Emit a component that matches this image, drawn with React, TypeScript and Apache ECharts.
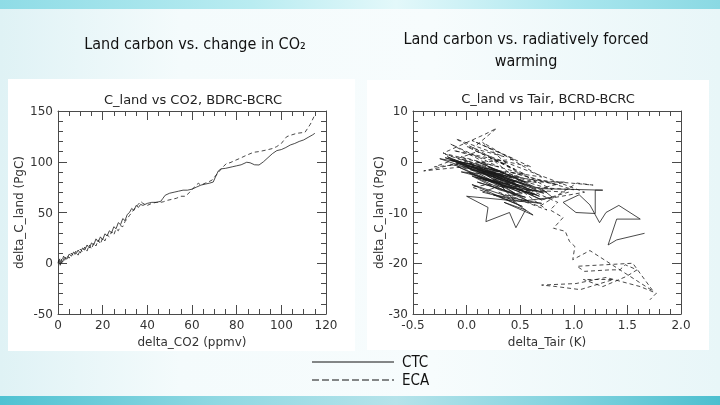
import { useEffect, useRef } from "react";
import * as echarts from "echarts";

// ---- Left panel: land carbon change vs CO2 change ----
const CO2_CTC_X = [0, 0.5, 1, 1.5, 2, 3, 4, 5, 6, 7, 8, 9, 10, 11, 12, 13, 14, 15, 16, 17, 18, 19, 20, 21, 22, 23, 24, 25, 26, 27, 28, 29, 30, 31, 32, 33, 34, 35, 36, 37, 38, 40, 42, 44, 46, 47, 48, 50, 52, 54, 56, 58, 60, 62, 64, 66, 68, 69.5, 70.5, 71.8, 73, 75, 78, 80, 82, 84.5, 86, 88, 90, 92, 94, 96, 98, 100, 102, 104, 106, 108, 110, 112, 114, 115];
const CO2_CTC_Y = [0, 3, -2, 4, 1, 6, 4, 9, 7, 11, 9, 13, 10, 15, 13, 18, 15, 20, 18, 24, 21, 26, 23, 29, 27, 32, 30, 36, 34, 40, 38, 44, 42, 48, 50, 54, 52, 57, 55, 58, 57, 59, 60, 60, 61, 64, 67, 69, 70, 71, 72, 72, 73, 75, 77, 78, 79, 80, 85, 91, 93, 93.5, 95, 96, 97, 99.5, 99, 97, 96.8, 100, 104, 108, 111, 112, 114, 116.5, 118, 120, 121.5, 124, 126.5, 128];

const CO2_ECA_X = [0, 1, 1.5, 2.5, 3, 4, 5, 6, 7, 8, 9, 10, 11, 12, 13, 14, 15, 16, 17, 18, 19, 20, 21, 22, 23, 24, 25, 26, 27, 28, 29, 30, 31, 32, 33, 34, 35, 36, 37, 38, 40, 42, 44, 46, 47.2, 49, 51, 53, 55, 57, 59, 61, 62.8, 64, 66, 67.3, 69, 70.5, 72, 73.5, 75.5, 77, 79, 81.5, 84, 87.5, 90, 93.4, 96, 97.9, 100, 102.4, 104, 106.9, 110.6, 113, 115.1];
const CO2_ECA_Y = [1, 5, 0, 7, 3, 8, 5, 10, 7, 12, 8, 14, 11, 16, 12, 18, 14, 20, 17, 23, 19, 25, 22, 28, 26, 31, 28, 34, 32, 37, 36, 41, 44, 47, 50, 53, 56, 58, 61, 59, 57, 59, 60, 60, 60.6, 62, 63, 64, 66, 66, 70, 75, 78.8, 77, 79, 80, 82, 86, 90, 94, 98.5, 99, 101, 103.4, 106, 109.3, 110, 111.6, 113, 114.9, 118, 124.7, 126, 128, 129, 137, 146.7];

// ---- Right panel: land carbon change vs air temperature change ----
const TAIR_CTC_X = [-0.05, 0.30, -0.20, 0.45, 0.05, -0.25, 0.60, 0.10, 0.35, -0.10, 0.50, 0.00, 0.70, 0.20, -0.05, 0.40, 0.15, 0.65, 0.05, 0.30, 0.55, 0.10, 0.45, 0.05, 0.60, -0.15, 0.42, 0.12, 0.68, 0.02, 0.50, -0.08, 0.35, 0.22, 0.72, 0.08, 0.58, 0.28, -0.18, 0.48, 0.15, 0.65, 0.38, 0.05, 0.52, 0.25, 0.70, 0.00, 0.20, 0.18, 0.40, 0.46, 0.55, 0.35, 0.62, 0.48, 0.25, -0.10, 0.35, 0.10, 0.55, 0.20, 0.75, 0.30, 0.15, 0.50, 0.80, 0.70, 1.27, 1.20, 1.20, 1.02, 0.90, 1.05, 1.15, 1.24, 1.30, 1.42, 1.62, 1.40, 1.32, 1.40, 1.66];
const TAIR_CTC_Y = [0.5, -2.0, 0.8, -4.0, -0.5, 0.6, -5.5, -1.5, -3.0, -0.2, -5.0, -1.0, -7.5, -2.5, -2.0, -4.5, -3.5, -6.5, -2.8, -5.5, -7.0, -4.0, -6.2, -0.8, -4.8, 0.3, -3.2, -1.2, -6.8, -2.2, -6.0, -1.0, -5.2, -1.8, -6.2, -3.0, -7.8, -4.2, 1.0, -4.6, -2.0, -5.2, -6.8, -4.5, -8.8, -6.5, -8.2, -6.8, -9.0, -11.8, -10.0, -13.0, -9.5, -8.0, -10.5, -8.5, -3.0, 0.2, -2.2, 0.0, -4.0, -1.0, -6.0, -4.8, -6.0, -7.8, -7.0, -5.3, -5.6, -5.6, -10.2, -10.0, -8.0, -6.5, -8.5, -12.0, -10.0, -8.6, -11.3, -11.3, -16.4, -15.4, -14.1];

const TAIR_ECA_X = [0.00, -0.40, 0.20, -0.15, 0.30, -0.22, 0.17, 0.28, 0.05, 0.45, -0.10, 0.35, 0.00, 0.55, -0.05, 0.25, 0.65, 0.10, 0.85, 0.40, 1.00, 0.20, 0.05, 0.45, 0.30, 0.75, 0.50, 0.95, 0.70, 1.10, 0.10, -0.30, 0.45, 0.05, 0.60, -0.12, 0.38, 0.15, 0.70, 0.00, 0.50, -0.20, 0.32, 0.80, 0.22, 0.55, 0.12, 0.62, 0.35, 0.92, 0.42, 0.68, 1.03, 1.18, 0.60, 0.15, -0.15, 0.40, 0.85, 0.78, 0.90, 0.81, 0.92, 0.96, 1.01, 0.99, 1.15, 1.74, 1.55, 1.03, 1.10, 1.34, 1.43, 1.48, 1.59, 1.49, 1.27, 1.09, 1.37, 1.06, 0.84, 0.70, 1.02, 1.30, 1.62, 1.77, 1.71];
const TAIR_ECA_Y = [0.0, -1.8, -0.5, 3.5, -1.0, 1.7, 5.4, 6.6, 2.5, -1.5, 4.5, 1.0, 3.0, -2.5, 1.0, -3.5, -4.0, -1.5, -4.5, -2.0, -5.5, -4.5, -5.0, -8.0, -6.0, -9.5, -5.5, -6.0, -7.5, -6.0, 2.0, -1.0, 0.5, 4.2, -1.0, 2.2, -0.5, 3.8, -3.0, -0.8, -3.0, 1.5, -2.5, -5.5, 0.8, -4.8, -3.2, -6.5, -4.0, -4.0, -6.8, -8.8, -4.2, -4.6, -3.5, -2.0, -0.5, -3.8, -8.0, -9.5, -11.0, -13.1, -13.7, -15.7, -16.7, -19.3, -17.5, -25.5, -20.0, -20.6, -21.6, -21.3, -21.3, -20.3, -21.3, -22.6, -24.6, -23.2, -23.2, -25.2, -24.6, -24.3, -24.0, -22.8, -24.6, -25.9, -27.2];

const PLOT_FONT = "'DejaVu Sans', Verdana, sans-serif";
const SLIDE_FONT = "'Liberation Sans Narrow', 'DejaVu Sans Condensed', 'Open Sans', sans-serif";
const AXIS_COLOR = "#4a4a4a";
const LABEL_COLOR = "#333";
const LINE_COLOR = "#1c1c1c";

const zip = (xs: number[], ys: number[]) =>
  xs.slice(0, Math.min(xs.length, ys.length)).map((x, i) => [x, ys[i]]);

function makeAxis(
  gridIndex: number,
  position: string,
  min: number,
  max: number,
  interval: number,
  minorSplit: number,
  showLabels: boolean,
  name: string,
  nameGap: number,
  decimals: number
) {
  return {
    type: "value",
    gridIndex,
    position,
    min,
    max,
    interval,
    axisLine: { show: true, onZero: false, lineStyle: { color: AXIS_COLOR, width: 1 } },
    axisTick: { show: true, inside: true, length: 9, lineStyle: { color: AXIS_COLOR, width: 1 } },
    minorTick: { show: true, splitNumber: minorSplit, length: 5, lineStyle: { color: AXIS_COLOR, width: 1 } },
    splitLine: { show: false },
    minorSplitLine: { show: false },
    axisLabel: {
      show: showLabels,
      color: LABEL_COLOR,
      fontSize: 12,
      fontFamily: PLOT_FONT,
      margin: 5,
      formatter: (v: number) => v.toFixed(decimals),
    },
    name: showLabels ? name : "",
    nameLocation: "middle",
    nameGap,
    nameTextStyle: { color: LABEL_COLOR, fontSize: 12, fontFamily: PLOT_FONT },
  };
}

const lineSeries = (xi: number, yi: number, data: number[][], dashed: boolean) => ({
  type: "line",
  xAxisIndex: xi,
  yAxisIndex: yi,
  data,
  symbol: "none",
  showSymbol: false,
  silent: true,
  lineStyle: { color: LINE_COLOR, width: 0.8, type: dashed ? [4, 3] : "solid" },
});

export default function App() {
  const ref = useRef<HTMLDivElement>(null);

  useEffect(() => {
    if (!ref.current) return;
    const chart = echarts.init(ref.current, undefined, { renderer: "svg" });

    const option = {
      animation: false,
      backgroundColor: "transparent",
      graphic: [
        // slide background
        {
          type: "rect",
          z: -10,
          shape: { x: 0, y: 0, width: 720, height: 405 },
          style: {
            fill: new echarts.graphic.LinearGradient(0, 0, 1, 0, [
              { offset: 0, color: "#dff2f5" },
              { offset: 0.25, color: "#f4fbfc" },
              { offset: 0.6, color: "#f7fcfd" },
              { offset: 1, color: "#e8f6f8" },
            ]),
          },
        },
        {
          type: "rect",
          z: -9,
          shape: { x: 0, y: 0, width: 720, height: 9 },
          style: {
            fill: new echarts.graphic.LinearGradient(0, 0, 1, 0, [
              { offset: 0, color: "#8fdce6" },
              { offset: 0.35, color: "#b9ecf1" },
              { offset: 0.55, color: "#e3f8fa" },
              { offset: 0.8, color: "#a9e6ee" },
              { offset: 1, color: "#8ad9e3" },
            ]),
          },
        },
        {
          type: "rect",
          z: -9,
          shape: { x: 0, y: 396, width: 720, height: 9 },
          style: {
            fill: new echarts.graphic.LinearGradient(0, 0, 1, 0, [
              { offset: 0, color: "#4fc2d2" },
              { offset: 0.3, color: "#8fd8e2" },
              { offset: 0.55, color: "#b5e3ea" },
              { offset: 0.8, color: "#7fd2de" },
              { offset: 1, color: "#4cbfcf" },
            ]),
          },
        },
        // white plot panels
        { type: "rect", z: -8, shape: { x: 8, y: 79, width: 347, height: 272 }, style: { fill: "#ffffff" } },
        { type: "rect", z: -8, shape: { x: 367, y: 80, width: 342, height: 270 }, style: { fill: "#ffffff" } },
        // slide headings
        {
          type: "text",
          x: 195,
          y: 43,
          style: { text: "Land carbon vs. change in CO₂", fill: "#111", font: `16px ${SLIDE_FONT}`, textAlign: "center", textVerticalAlign: "middle" },
        },
        {
          type: "text",
          x: 526,
          y: 38,
          style: { text: "Land carbon vs. radiatively forced", fill: "#111", font: `16px ${SLIDE_FONT}`, textAlign: "center", textVerticalAlign: "middle" },
        },
        {
          type: "text",
          x: 526,
          y: 60,
          style: { text: "warming", fill: "#111", font: `16px ${SLIDE_FONT}`, textAlign: "center", textVerticalAlign: "middle" },
        },
        // plot titles
        {
          type: "text",
          x: 193,
          y: 99,
          style: { text: "C_land vs CO2, BDRC-BCRC", fill: "#222", font: `13px ${PLOT_FONT}`, textAlign: "center", textVerticalAlign: "middle" },
        },
        {
          type: "text",
          x: 548,
          y: 98,
          style: { text: "C_land vs Tair, BCRD-BCRC", fill: "#222", font: `13px ${PLOT_FONT}`, textAlign: "center", textVerticalAlign: "middle" },
        },
        // legend
        { type: "line", shape: { x1: 312, y1: 362, x2: 394, y2: 362 }, style: { stroke: "#111", lineWidth: 1 } },
        {
          type: "text",
          x: 402,
          y: 362,
          style: { text: "CTC", fill: "#111", font: `15px ${SLIDE_FONT}`, textVerticalAlign: "middle" },
        },
        { type: "line", shape: { x1: 312, y1: 380, x2: 394, y2: 380 }, style: { stroke: "#111", lineWidth: 1, lineDash: [7, 3] } },
        {
          type: "text",
          x: 402,
          y: 380,
          style: { text: "ECA", fill: "#111", font: `15px ${SLIDE_FONT}`, textVerticalAlign: "middle" },
        },
      ],
      grid: [
        { left: 58, top: 111, width: 268, height: 203, containLabel: false },
        { left: 413, top: 111, width: 268, height: 203, containLabel: false },
      ],
      xAxis: [
        makeAxis(0, "bottom", 0, 120, 20, 4, true, "delta_CO2 (ppmv)", 15, 0),
        makeAxis(0, "top", 0, 120, 20, 4, false, "", 0, 0),
        makeAxis(1, "bottom", -0.5, 2.0, 0.5, 5, true, "delta_Tair (K)", 15, 1),
        makeAxis(1, "top", -0.5, 2.0, 0.5, 5, false, "", 0, 1),
      ],
      yAxis: [
        makeAxis(0, "left", -50, 150, 50, 5, true, "delta_C_land (PgC)", 33, 0),
        makeAxis(0, "right", -50, 150, 50, 5, false, "", 0, 0),
        makeAxis(1, "left", -30, 10, 10, 5, true, "delta_C_land (PgC)", 28, 0),
        makeAxis(1, "right", -30, 10, 10, 5, false, "", 0, 0),
      ],
      series: [
        lineSeries(0, 0, zip(CO2_CTC_X, CO2_CTC_Y), false),
        lineSeries(0, 0, zip(CO2_ECA_X, CO2_ECA_Y), true),
        lineSeries(2, 2, zip(TAIR_CTC_X, TAIR_CTC_Y), false),
        lineSeries(2, 2, zip(TAIR_ECA_X, TAIR_ECA_Y), true),
      ],
    };

    chart.setOption(option as any);
    return () => chart.dispose();
  }, []);

  return (
    <div
      ref={ref}
      style={{ position: "fixed", left: 0, top: 0, width: 720, height: 405 }}
    />
  );
}
